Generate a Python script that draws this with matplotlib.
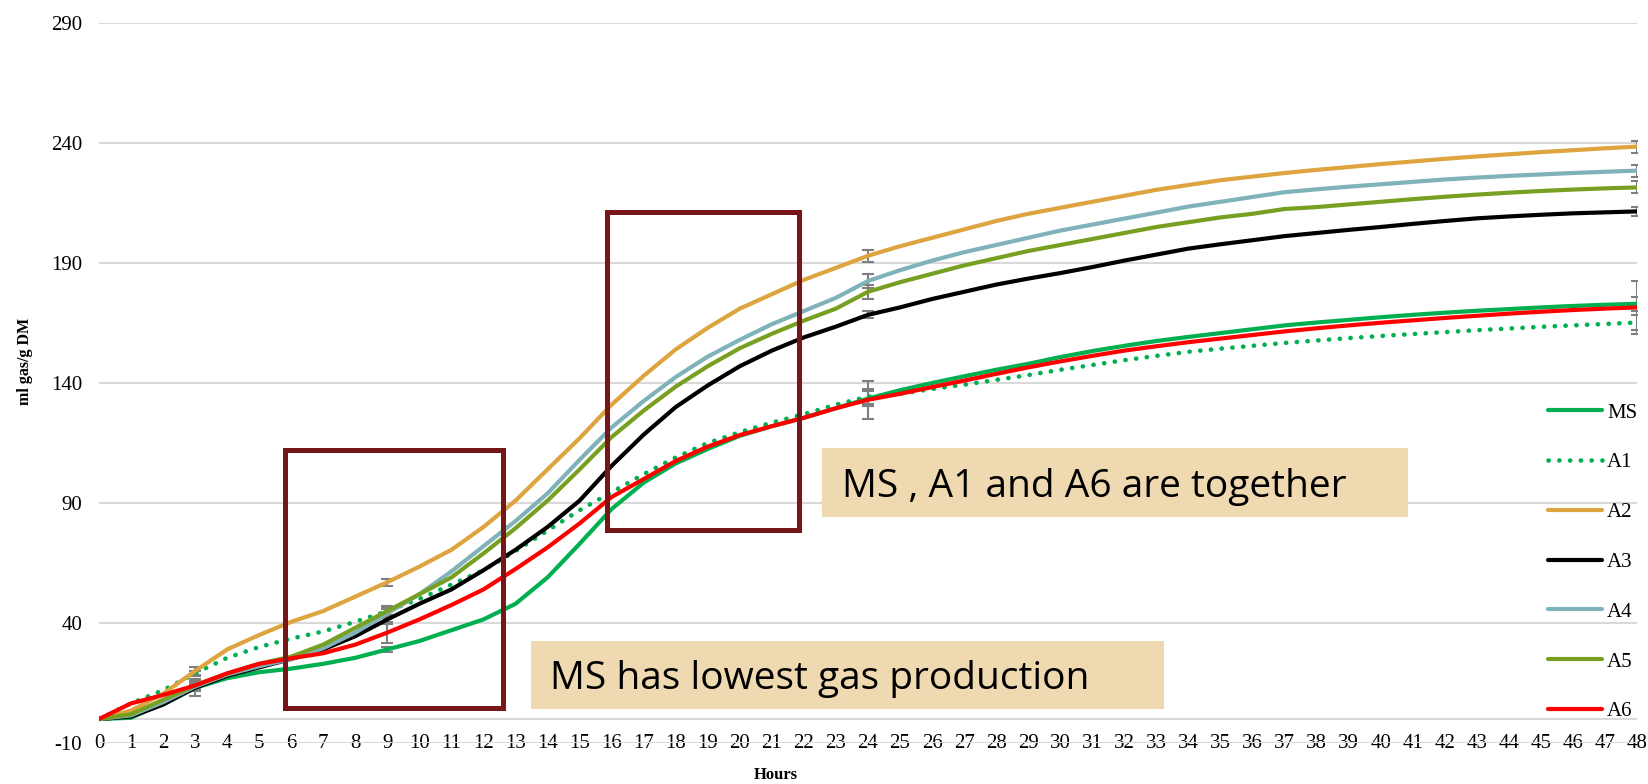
import matplotlib
matplotlib.use('Agg')
import matplotlib.pyplot as plt
from matplotlib.patches import Rectangle

plt.rcParams["axes.unicode_minus"] = False

# ---------------- data ----------------
hours = list(range(0, 49))
MS = [0, 0.5, 6.5, 13, 17, 19.5, 21, 23, 25.5, 29, 32.5, 37, 41.5, 48, 59, 73, 87.5, 98.5, 106.5, 112.5,
      118, 122, 125.5, 129.5, 133.5, 137, 140, 142.8, 145.5, 148, 150.8, 153.3, 155.5, 157.5, 159.2, 160.8,
      162.4, 164, 165.2, 166.3, 167.4, 168.4, 169.3, 170.1, 170.8, 171.5, 172.1, 172.6, 173]
A1 = [0, 6.5, 12, 19, 25.5, 30, 33.5, 36.5, 40.5, 45, 50, 56, 62, 70, 78.5, 87, 94.5, 102, 109, 115,
      119.5, 123.5, 127, 131, 134.3, 135.5, 137.5, 139.3, 141.3, 143.3, 145.5, 147.5, 149.5, 151.3, 153, 154.3,
      155.5, 156.7, 157.7, 158.7, 159.6, 160.4, 161.2, 162, 162.7, 163.4, 164, 164.6, 165.2]
A2 = [0, 3.5, 10.5, 20, 29, 35, 40.5, 45, 51, 57, 63.5, 70.5, 80, 91, 104, 117, 131, 143, 154, 163,
      171, 177, 183, 188, 193, 197, 200.5, 204, 207.5, 210.5, 213, 215.5, 218, 220.5, 222.5, 224.5,
      226, 227.5, 228.8, 230, 231.2, 232.3, 233.4, 234.4, 235.3, 236.2, 237, 237.8, 238.5]
A3 = [0, 1, 6, 13, 18, 21.5, 25, 29, 34.5, 41.5, 48, 54, 62, 70.5, 80, 91, 105.5, 118.5, 130, 139,
      147, 153.5, 159, 163.5, 168.4, 171.5, 175, 178, 181, 183.5, 185.8, 188.3, 191, 193.5, 196, 197.8,
      199.5, 201.2, 202.5, 203.8, 205, 206.3, 207.5, 208.6, 209.4, 210.1, 210.7, 211.1, 211.5]
A4 = [0, 1.5, 7, 13.5, 18.5, 22, 25, 29.5, 36, 44, 52, 61.5, 72, 82.5, 94, 108, 121.5, 132.5, 142.5, 151,
      158, 164.5, 170, 175.5, 182.5, 187, 191, 194.5, 197.5, 200.5, 203.5, 206, 208.5, 211, 213.5, 215.5,
      217.5, 219.5, 220.7, 221.8, 222.8, 223.8, 224.8, 225.6, 226.3, 226.9, 227.5, 228, 228.5]
A5 = [0, 2, 8, 14, 19, 23, 26, 31, 38, 45, 52, 59, 69, 79.5, 91, 104, 117.5, 128.5, 138.5, 147,
      154.5, 160.5, 166, 171, 178, 182, 185.5, 189, 192, 195, 197.5, 200, 202.5, 205, 207, 209,
      210.5, 212.5, 213.3, 214.4, 215.5, 216.6, 217.6, 218.5, 219.3, 220, 220.6, 221.1, 221.5]
A6 = [0, 6.5, 10, 14, 19, 23, 25.3, 27.4, 31, 36, 41.5, 47.5, 54, 62.5, 71.5, 81.5, 92.5, 100, 107.5, 113.5,
      118.3, 122, 125.5, 129.5, 133, 135.5, 138.3, 141, 143.8, 146.5, 149, 151.3, 153.5, 155.3, 157, 158.5,
      160, 161.5, 162.8, 164, 165.1, 166.1, 167.1, 168, 168.9, 169.7, 170.4, 171, 171.5]

series_names = ["MS", "A1", "A2", "A3", "A4", "A5", "A6"]
series_values = [MS, A1, A2, A3, A4, A5, A6]
series_colors = ["#00B050", "#00B050", "#DDA43F", "#000000", "#7FB2B9", "#77A023", "#FF0000"]

err_hours = [3, 9, 24, 48]
err_MS = [1.0, 1.2, 3.0, 3.0]
err_A1 = [1.0, 1.5, 3.0, 3.0]
err_A2 = [1.5, 1.5, 2.5, 2.5]
err_A3 = [3.5, 2.0, 1.5, 2.0]
err_A4 = [2.0, 2.0, 3.0, 2.5]
err_A5 = [2.0, 2.0, 3.0, 2.5]
err_A6 = [1.0, 4.5, 8.0, 11.0]
series_errs = [err_MS, err_A1, err_A2, err_A3, err_A4, err_A5, err_A6]

y_ticks = [-10, 40, 90, 140, 190, 240, 290]
x_ticks = list(range(0, 49))

note1 = "MS , A1 and A6 are together"
note2 = "MS has lowest gas production"
y_label = "ml gas/g DM"
x_label = "Hours"

# ---------------- figure ----------------
W, H = 1648, 784
fig = plt.figure(figsize=(W / 100, H / 100), dpi=100)
fig.patch.set_facecolor("white")


def fx(px):
    return px / W


def fy(py):
    return 1 - py / H


SERIF = "Liberation Serif"
ax = fig.add_axes([fx(99), fy(743), fx(1637) - fx(99), fy(23) - fy(743)])
ax.set_xlim(0, 48)
ax.set_ylim(-10, 290)
ax.set_xticks(x_ticks)
ax.set_yticks(y_ticks)
ax.grid(axis="y", color="#D9D9D9", lw=1.5)
ax.set_axisbelow(True)
for s in ax.spines.values():
    s.set_visible(False)
ax.axhline(0, color="#D9D9D9", lw=1.5, zorder=0.5)
ax.tick_params(axis="both", length=0, labelsize=15)
ax.tick_params(axis="y", pad=12)
ax.tick_params(axis="x", pad=-6.2)
for lbl in ax.get_xticklabels() + ax.get_yticklabels():
    lbl.set_fontfamily(SERIF)

for name, vals, col, errs in zip(series_names, series_values, series_colors, series_errs):
    if name == "A1":
        ax.plot(hours, vals, color=col, lw=3.3, linestyle=(0, (0.05, 2.3)),
                dash_capstyle="round", label=name, zorder=3)
    else:
        ax.plot(hours, vals, color=col, lw=3.0, label=name, zorder=3,
                solid_capstyle="round", solid_joinstyle="round")
    ax.errorbar(err_hours, [vals[h] for h in err_hours], yerr=errs, fmt="none",
                ecolor="#7F7F7F", elinewidth=1.5, capsize=4.5, capthick=1.5, zorder=2.5)

leg = ax.legend(loc="upper left", bbox_to_anchor=(fx(1548), fy(403)),
                bbox_transform=fig.transFigure, frameon=False,
                prop={"family": SERIF, "size": 15}, handlelength=2.6,
                handletextpad=0.24, labelspacing=1.45, borderpad=0, borderaxespad=0)

fig.text(fx(25), fy(361), y_label, rotation=90, ha="center", va="center",
         fontsize=11.5, fontweight="bold", family=SERIF)
fig.text(fx(776), fy(775), x_label, ha="center", va="center",
         fontsize=12, fontweight="bold", family=SERIF)

# annotation rectangles (dark red outlines)
RED = "#761618"
for (x0, y0, x1, y1) in [(284.5, 449.5, 502.5, 707.5), (606.5, 211.5, 798.5, 529.5)]:
    fig.add_artist(Rectangle((fx(x0), fy(y1)), fx(x1) - fx(x0), fy(y0) - fy(y1),
                             transform=fig.transFigure, fill=False, ec=RED, lw=3.6, zorder=5))

# tan note boxes
TAN = "#EED9B0"
for (x0, y0, x1, y1), txt, tx in [((822, 448, 1408, 517), note1, 842),
                                  ((531, 641, 1164, 709), note2, 550)]:
    fig.add_artist(Rectangle((fx(x0), fy(y1)), fx(x1) - fx(x0), fy(y0) - fy(y1),
                             transform=fig.transFigure, fc=TAN, ec="none", zorder=5))
    fig.text(fx(tx), fy((y0 + y1) / 2), txt, ha="left", va="center_baseline",
             fontsize=28, family=["Open Sans", "DejaVu Sans"], color="black", zorder=6)

fig.savefig("out.png", dpi=100)
